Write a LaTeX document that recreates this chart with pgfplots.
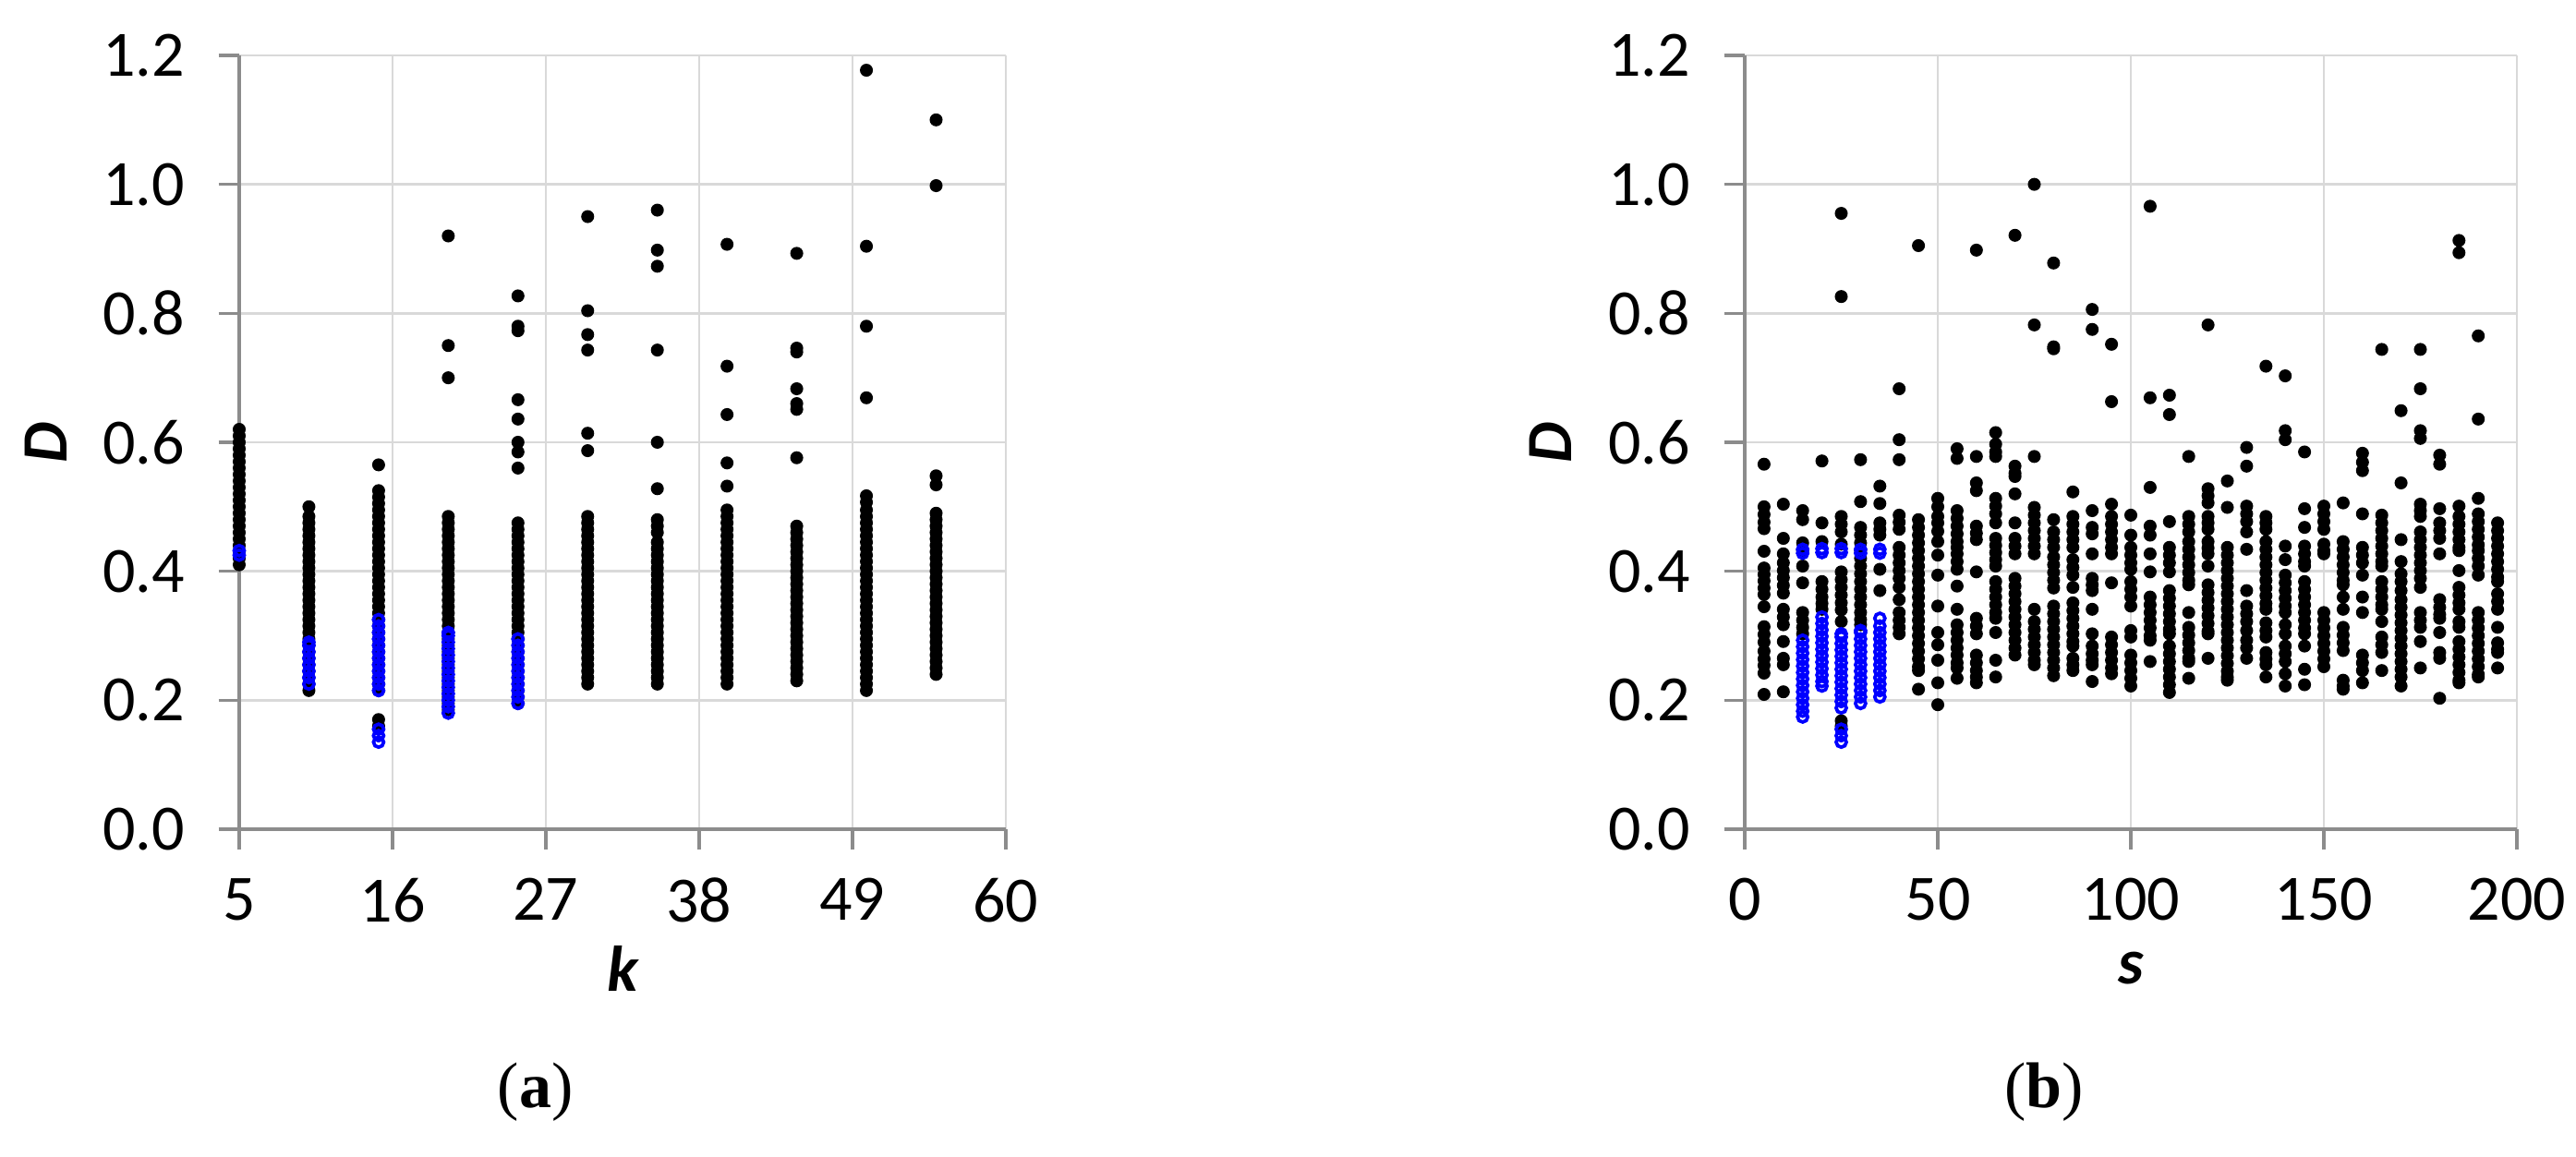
\documentclass[border=0pt]{standalone}
\usepackage{fontspec}
\setmainfont{Carlito}
\newfontfamily\capfont{Liberation Serif}
\usepackage{pgfplots}
\pgfplotsset{compat=1.18}
\definecolor{gridgray}{HTML}{D9D9D9}
\definecolor{axgray}{HTML}{8C8C8C}
\definecolor{ptblue}{RGB}{0,0,255}

\pgfplotsset{
  dpanel/.style={
    scale only axis, width=166pt, height=167.6pt,
    ymin=0, ymax=1.2, ytick={0,0.2,0.4,0.6,0.8,1.0,1.2},
    axis lines=left, axis line style={-, axgray, line width=0.7pt},
    grid=major, grid style={gridgray, line width=0.5pt},
    tick align=outside, major tick length=4.5pt,
    tick style={axgray, line width=0.7pt},
    /pgf/number format/assume math mode=true,
    tick label style={font=\fontsize{14}{14}\selectfont},
    yticklabel style={/pgf/number format/fixed, /pgf/number format/fixed zerofill,
      /pgf/number format/precision=1, xshift=-3.8pt},
    xticklabel style={yshift=-2.6pt},
    label style={font=\fontsize{14}{14}\selectfont\bfseries\itshape, inner sep=1pt},
    ylabel style={at={(axis description cs:-0.252,0.5)}, anchor=center},
    xlabel style={at={(axis description cs:0.5,-0.18)}, anchor=center},
    clip=false,
  },
  blk/.style={only marks, mark=*, mark size=1.2pt, black},
  blu/.style={only marks, mark=o, mark size=1.1pt, ptblue, mark options={line width=0.75pt}},
}

\begin{document}
\begin{tikzpicture}
\useasboundingbox (0,0) rectangle (557.8pt,250.6pt);

% ---------- (a) D versus k ----------
\begin{axis}[dpanel, at={(51.8pt,71pt)}, anchor=south west,
  xmin=5, xmax=60, xtick={5,16,27,38,49,60}, xlabel={k}, ylabel={D}]
\addplot[blk] coordinates {
(5,0.41)(5,0.42)(5,0.43)(5,0.44)(5,0.45)(5,0.46)(5,0.47)(5,0.48)(5,0.49)(5,0.50)(5,0.51)
(5,0.52)(5,0.53)(5,0.54)(5,0.55)(5,0.56)(5,0.57)(5,0.58)(5,0.59)(5,0.60)(5,0.61)(5,0.62)
(10,0.215)(10,0.225)(10,0.235)(10,0.245)(10,0.255)(10,0.265)(10,0.275)(10,0.285)(10,0.295)(10,0.305)
(10,0.315)(10,0.325)(10,0.335)(10,0.345)(10,0.355)(10,0.365)(10,0.375)(10,0.385)(10,0.395)(10,0.405)
(10,0.415)(10,0.425)(10,0.435)(10,0.445)(10,0.455)(10,0.465)(10,0.475)(10,0.485)(10,0.50)
(15,0.16)(15,0.17)(15,0.215)(15,0.225)(15,0.235)(15,0.245)(15,0.255)(15,0.265)(15,0.275)(15,0.285)
(15,0.295)(15,0.305)(15,0.315)(15,0.325)(15,0.335)(15,0.345)(15,0.355)(15,0.365)(15,0.375)(15,0.385)
(15,0.395)(15,0.405)(15,0.415)(15,0.425)(15,0.435)(15,0.445)(15,0.455)(15,0.465)(15,0.475)(15,0.485)
(15,0.495)(15,0.505)(15,0.515)(15,0.525)(15,0.565)
(20,0.185)(20,0.195)(20,0.205)(20,0.215)(20,0.225)(20,0.235)(20,0.245)(20,0.255)(20,0.265)(20,0.275)
(20,0.285)(20,0.295)(20,0.305)(20,0.315)(20,0.325)(20,0.335)(20,0.345)(20,0.355)(20,0.365)(20,0.375)
(20,0.385)(20,0.395)(20,0.405)(20,0.415)(20,0.425)(20,0.435)(20,0.445)(20,0.455)(20,0.465)(20,0.475)
(20,0.485)(20,0.70)(20,0.75)(20,0.92)
(25,0.195)(25,0.205)(25,0.215)(25,0.225)(25,0.235)(25,0.245)(25,0.255)(25,0.265)(25,0.275)(25,0.285)
(25,0.295)(25,0.305)(25,0.315)(25,0.325)(25,0.335)(25,0.345)(25,0.355)(25,0.365)(25,0.375)(25,0.385)
(25,0.395)(25,0.405)(25,0.415)(25,0.425)(25,0.435)(25,0.445)(25,0.455)(25,0.465)(25,0.475)
(25,0.56)(25,0.585)(25,0.60)(25,0.636)(25,0.666)(25,0.773)(25,0.78)(25,0.827)
(30,0.225)(30,0.235)(30,0.245)(30,0.255)(30,0.265)(30,0.275)(30,0.285)(30,0.295)(30,0.305)(30,0.315)
(30,0.325)(30,0.335)(30,0.345)(30,0.355)(30,0.365)(30,0.375)(30,0.385)(30,0.395)(30,0.405)(30,0.415)
(30,0.425)(30,0.435)(30,0.445)(30,0.455)(30,0.465)(30,0.475)(30,0.485)
(30,0.587)(30,0.614)(30,0.743)(30,0.767)(30,0.804)(30,0.95)
(35,0.225)(35,0.235)(35,0.245)(35,0.255)(35,0.265)(35,0.275)(35,0.285)(35,0.295)(35,0.305)(35,0.315)
(35,0.325)(35,0.335)(35,0.345)(35,0.355)(35,0.365)(35,0.375)(35,0.385)(35,0.395)(35,0.405)(35,0.415)
(35,0.425)(35,0.435)(35,0.445)(35,0.46)(35,0.47)(35,0.48)(35,0.528)(35,0.60)(35,0.743)(35,0.873)
(35,0.898)(35,0.96)
(40,0.225)(40,0.235)(40,0.245)(40,0.255)(40,0.265)(40,0.275)(40,0.285)(40,0.295)(40,0.305)(40,0.315)
(40,0.325)(40,0.335)(40,0.345)(40,0.355)(40,0.365)(40,0.375)(40,0.385)(40,0.395)(40,0.405)(40,0.415)
(40,0.425)(40,0.435)(40,0.445)(40,0.455)(40,0.465)(40,0.475)(40,0.485)(40,0.495)
(40,0.532)(40,0.568)(40,0.643)(40,0.718)(40,0.907)
(45,0.23)(45,0.24)(45,0.25)(45,0.26)(45,0.27)(45,0.28)(45,0.29)(45,0.30)(45,0.31)(45,0.32)
(45,0.33)(45,0.34)(45,0.35)(45,0.36)(45,0.37)(45,0.38)(45,0.39)(45,0.40)(45,0.41)(45,0.42)
(45,0.43)(45,0.44)(45,0.45)(45,0.46)(45,0.47)
(45,0.576)(45,0.651)(45,0.66)(45,0.683)(45,0.74)(45,0.746)(45,0.893)
(50,0.215)(50,0.225)(50,0.235)(50,0.245)(50,0.255)(50,0.265)(50,0.275)(50,0.285)(50,0.295)(50,0.305)
(50,0.315)(50,0.325)(50,0.335)(50,0.345)(50,0.355)(50,0.365)(50,0.375)(50,0.385)(50,0.395)(50,0.405)
(50,0.415)(50,0.425)(50,0.435)(50,0.445)(50,0.455)(50,0.465)(50,0.475)(50,0.485)(50,0.495)
(50,0.507)(50,0.517)(50,0.669)(50,0.78)(50,0.904)(50,1.177)
(55,0.24)(55,0.25)(55,0.26)(55,0.27)(55,0.28)(55,0.29)(55,0.30)(55,0.31)(55,0.32)(55,0.33)
(55,0.34)(55,0.35)(55,0.36)(55,0.37)(55,0.38)(55,0.39)(55,0.40)(55,0.41)(55,0.42)(55,0.43)
(55,0.44)(55,0.45)(55,0.46)(55,0.47)(55,0.48)(55,0.49)
(55,0.534)(55,0.548)(55,0.998)(55,1.10)
};
\addplot[blu] coordinates {
(5,0.425)(5,0.432)
(10,0.225)(10,0.235)(10,0.245)(10,0.255)(10,0.265)(10,0.275)(10,0.285)(10,0.29)
(15,0.135)(15,0.145)(15,0.155)
(15,0.215)(15,0.225)(15,0.235)(15,0.245)(15,0.255)(15,0.265)(15,0.275)(15,0.285)(15,0.295)(15,0.305)
(15,0.315)(15,0.325)
(20,0.18)(20,0.19)(20,0.20)(20,0.21)(20,0.22)(20,0.23)(20,0.24)(20,0.25)(20,0.26)(20,0.27)
(20,0.28)(20,0.29)(20,0.30)(20,0.305)
(25,0.195)(25,0.205)(25,0.215)(25,0.225)(25,0.235)(25,0.245)(25,0.255)(25,0.265)(25,0.275)(25,0.285)
(25,0.295)
};
\end{axis}

% ---------- (b) D versus s ----------
\begin{axis}[dpanel, at={(377.8pt,71pt)}, anchor=south west, width=167.2pt,
  xmin=0, xmax=200, xtick={0,50,100,150,200}, xlabel={s}, ylabel={D}]
\addplot[blk] coordinates {
(5,0.566)(5,0.50)(5,0.488)(5,0.476)(5,0.466)(5,0.431)(5,0.405)(5,0.395)(5,0.385)(5,0.374)(5,0.364)
(5,0.345)(5,0.314)(5,0.302)(5,0.29)(5,0.276)(5,0.264)(5,0.254)(5,0.242)(5,0.209)
(10,0.504)(10,0.451)(10,0.427)(10,0.413)(10,0.401)(10,0.39)(10,0.378)(10,0.366)(10,0.341)(10,0.329)
(10,0.317)(10,0.291)(10,0.265)(10,0.255)(10,0.213)
(15,0.494)(15,0.48)(15,0.444)(15,0.432)(15,0.408)(15,0.382)(15,0.336)(15,0.324)(15,0.313)(15,0.303)
(20,0.571)(20,0.475)(20,0.446)(20,0.384)(20,0.372)(20,0.36)(20,0.35)(20,0.341)
(25,0.955)(25,0.826)(25,0.485)(25,0.473)(25,0.461)(25,0.442)(25,0.399)(25,0.387)(25,0.375)(25,0.363)
(25,0.351)(25,0.34)(25,0.322)(25,0.168)(25,0.16)
(30,0.573)(30,0.508)(30,0.468)(30,0.456)(30,0.444)(30,0.432)(30,0.42)(30,0.408)(30,0.396)(30,0.384)
(30,0.372)(30,0.36)(30,0.348)(30,0.336)(30,0.325)(30,0.317)
(35,0.532)(35,0.505)(35,0.475)(35,0.465)(35,0.456)(35,0.403)(35,0.37)
(40,0.683)(40,0.604)(40,0.573)(40,0.487)(40,0.476)(40,0.465)(40,0.437)(40,0.425)(40,0.413)(40,0.401)
(40,0.389)(40,0.375)(40,0.356)(40,0.336)(40,0.324)(40,0.313)(40,0.303)
(45,0.905)(45,0.48)(45,0.468)(45,0.456)(45,0.444)(45,0.432)(45,0.42)(45,0.408)(45,0.396)(45,0.384)
(45,0.372)(45,0.36)(45,0.348)(45,0.336)(45,0.324)(45,0.312)(45,0.30)(45,0.288)(45,0.276)(45,0.264)
(45,0.252)(45,0.246)(45,0.217)
(50,0.513)(50,0.50)(50,0.485)(50,0.475)(50,0.462)(50,0.446)(50,0.425)(50,0.394)(50,0.346)(50,0.305)
(50,0.286)(50,0.262)(50,0.227)(50,0.193)
(55,0.59)(55,0.575)(55,0.494)(55,0.482)(55,0.47)(55,0.458)(55,0.446)(55,0.437)(55,0.427)(55,0.415)
(55,0.403)(55,0.377)(55,0.341)(55,0.317)(55,0.305)(55,0.293)(55,0.281)(55,0.27)(55,0.258)(55,0.25)
(55,0.234)
(60,0.898)(60,0.578)(60,0.537)(60,0.525)(60,0.47)(60,0.459)(60,0.449)(60,0.399)(60,0.327)(60,0.315)
(60,0.303)(60,0.27)(60,0.258)(60,0.246)(60,0.236)(60,0.227)
(65,0.615)(65,0.597)(65,0.585)(65,0.578)(65,0.513)(65,0.501)(65,0.489)(65,0.475)(65,0.451)(65,0.44)
(65,0.429)(65,0.418)(65,0.408)(65,0.384)(65,0.372)(65,0.36)(65,0.348)(65,0.336)(65,0.327)(65,0.305)
(65,0.262)(65,0.236)
(70,0.921)(70,0.563)(70,0.552)(70,0.547)(70,0.52)(70,0.475)(70,0.451)(70,0.439)(70,0.427)(70,0.389)
(70,0.377)(70,0.365)(70,0.353)(70,0.341)(70,0.329)(70,0.317)(70,0.305)(70,0.293)(70,0.281)(70,0.27)
(75,1.0)(75,0.782)(75,0.578)(75,0.499)(75,0.487)(75,0.475)(75,0.463)(75,0.451)(75,0.439)(75,0.427)
(75,0.341)(75,0.322)(75,0.31)(75,0.298)(75,0.286)(75,0.274)(75,0.262)(75,0.255)
(80,0.878)(80,0.748)(80,0.745)(80,0.48)(80,0.461)(80,0.449)(80,0.437)(80,0.422)(80,0.41)(80,0.398)
(80,0.386)(80,0.374)(80,0.346)(80,0.334)(80,0.322)(80,0.31)(80,0.298)(80,0.286)(80,0.274)(80,0.262)
(80,0.25)(80,0.238)
(85,0.523)(85,0.485)(85,0.473)(85,0.461)(85,0.449)(85,0.437)(85,0.418)(85,0.406)(85,0.394)(85,0.375)
(85,0.351)(85,0.339)(85,0.327)(85,0.315)(85,0.303)(85,0.291)(85,0.284)(85,0.265)(85,0.255)(85,0.246)
(90,0.806)(90,0.775)(90,0.494)(90,0.468)(90,0.458)(90,0.427)(90,0.389)(90,0.379)(90,0.37)(90,0.341)
(90,0.303)(90,0.284)(90,0.272)(90,0.262)(90,0.255)(90,0.229)
(95,0.752)(95,0.663)(95,0.504)(95,0.485)(95,0.473)(95,0.461)(95,0.449)(95,0.437)(95,0.427)(95,0.382)
(95,0.298)(95,0.286)(95,0.274)(95,0.262)(95,0.25)(95,0.241)
(100,0.487)(100,0.456)(100,0.437)(100,0.425)(100,0.413)(100,0.403)(100,0.384)(100,0.372)(100,0.36)
(100,0.346)(100,0.308)(100,0.298)(100,0.27)(100,0.258)(100,0.246)(100,0.234)(100,0.222)
(105,0.966)(105,0.669)(105,0.53)(105,0.47)(105,0.456)(105,0.427)(105,0.399)(105,0.36)(105,0.348)
(105,0.336)(105,0.324)(105,0.312)(105,0.30)(105,0.293)(105,0.26)
(110,0.673)(110,0.643)(110,0.477)(110,0.437)(110,0.425)(110,0.413)(110,0.399)(110,0.37)(110,0.358)
(110,0.346)(110,0.334)(110,0.322)(110,0.31)(110,0.303)(110,0.284)(110,0.272)(110,0.26)(110,0.248)
(110,0.236)(110,0.224)(110,0.212)
(115,0.578)(115,0.485)(115,0.473)(115,0.461)(115,0.446)(115,0.434)(115,0.422)(115,0.41)(115,0.398)
(115,0.386)(115,0.379)(115,0.336)(115,0.313)(115,0.301)(115,0.289)(115,0.277)(115,0.265)(115,0.26)
(115,0.234)
(120,0.782)(120,0.528)(120,0.517)(120,0.506)(120,0.485)(120,0.475)(120,0.465)(120,0.446)(120,0.436)
(120,0.427)(120,0.408)(120,0.379)(120,0.367)(120,0.355)(120,0.343)(120,0.331)(120,0.319)(120,0.307)
(120,0.303)(120,0.265)
(125,0.54)(125,0.499)(125,0.437)(125,0.425)(125,0.413)(125,0.401)(125,0.389)(125,0.377)(125,0.365)
(125,0.353)(125,0.341)(125,0.329)(125,0.317)(125,0.305)(125,0.293)(125,0.281)(125,0.269)(125,0.257)
(125,0.245)(125,0.236)(125,0.231)
(130,0.592)(130,0.563)(130,0.501)(130,0.489)(130,0.477)(130,0.461)(130,0.434)(130,0.37)(130,0.346)
(130,0.334)(130,0.322)(130,0.308)(130,0.293)(130,0.281)(130,0.265)
(135,0.718)(135,0.485)(135,0.475)(135,0.465)(135,0.446)(135,0.434)(135,0.422)(135,0.41)(135,0.398)
(135,0.386)(135,0.374)(135,0.362)(135,0.35)(135,0.341)(135,0.32)(135,0.308)(135,0.298)(135,0.274)
(135,0.264)(135,0.255)(135,0.236)
(140,0.703)(140,0.618)(140,0.604)(140,0.439)(140,0.418)(140,0.394)(140,0.382)(140,0.37)(140,0.358)
(140,0.346)(140,0.336)(140,0.317)(140,0.303)(140,0.284)(140,0.272)(140,0.26)(140,0.241)(140,0.222)
(145,0.585)(145,0.497)(145,0.468)(145,0.439)(145,0.427)(145,0.415)(145,0.408)(145,0.384)(145,0.372)
(145,0.36)(145,0.348)(145,0.336)(145,0.324)(145,0.312)(145,0.303)(145,0.284)(145,0.248)(145,0.224)
(150,0.501)(150,0.489)(150,0.477)(150,0.465)(150,0.442)(150,0.432)(150,0.427)(150,0.336)(150,0.324)
(150,0.312)(150,0.30)(150,0.288)(150,0.276)(150,0.264)(150,0.252)
(155,0.506)(155,0.446)(155,0.434)(155,0.422)(155,0.41)(155,0.398)(155,0.386)(155,0.379)(155,0.36)
(155,0.341)(155,0.313)(155,0.301)(155,0.289)(155,0.277)(155,0.231)(155,0.222)(155,0.217)
(160,0.583)(160,0.569)(160,0.556)(160,0.489)(160,0.437)(160,0.425)(160,0.413)(160,0.394)(160,0.36)
(160,0.336)(160,0.27)(160,0.258)(160,0.246)(160,0.227)
(165,0.744)(165,0.487)(165,0.475)(165,0.463)(165,0.451)(165,0.439)(165,0.427)(165,0.415)(165,0.408)
(165,0.384)(165,0.372)(165,0.36)(165,0.348)(165,0.341)(165,0.322)(165,0.298)(165,0.286)(165,0.274)
(165,0.246)
(170,0.649)(170,0.537)(170,0.449)(170,0.415)(170,0.396)(170,0.384)(170,0.37)(170,0.356)(170,0.344)
(170,0.332)(170,0.32)(170,0.308)(170,0.296)(170,0.284)(170,0.272)(170,0.26)(170,0.248)(170,0.236)
(170,0.222)
(175,0.744)(175,0.683)(175,0.618)(175,0.606)(175,0.504)(175,0.494)(175,0.485)(175,0.461)(175,0.449)
(175,0.437)(175,0.425)(175,0.413)(175,0.401)(175,0.389)(175,0.375)(175,0.336)(175,0.324)(175,0.313)
(175,0.291)(175,0.25)
(180,0.58)(180,0.566)(180,0.497)(180,0.475)(180,0.463)(180,0.451)(180,0.427)(180,0.356)(180,0.344)
(180,0.333)(180,0.327)(180,0.305)(180,0.274)(180,0.265)(180,0.203)
(185,0.913)(185,0.894)(185,0.501)(185,0.485)(185,0.473)(185,0.461)(185,0.449)(185,0.437)(185,0.432)
(185,0.401)(185,0.375)(185,0.363)(185,0.351)(185,0.341)(185,0.322)(185,0.313)(185,0.291)(185,0.279)
(185,0.267)(185,0.255)(185,0.243)(185,0.231)(185,0.227)
(190,0.765)(190,0.636)(190,0.513)(190,0.489)(190,0.477)(190,0.465)(190,0.453)(190,0.441)(190,0.432)
(190,0.42)(190,0.408)(190,0.394)(190,0.336)(190,0.324)(190,0.312)(190,0.30)(190,0.288)(190,0.276)
(190,0.264)(190,0.252)(190,0.24)(190,0.236)
(195,0.475)(195,0.463)(195,0.451)(195,0.439)(195,0.427)(195,0.415)(195,0.403)(195,0.391)(195,0.384)
(195,0.365)(195,0.353)(195,0.341)(195,0.313)(195,0.289)(195,0.279)(195,0.274)(195,0.25)
};
\addplot[blu] coordinates {
(15,0.428)(15,0.434)
(15,0.174)(15,0.183)(15,0.193)(15,0.203)(15,0.213)(15,0.223)(15,0.233)(15,0.243)(15,0.253)(15,0.263)
(15,0.273)(15,0.283)(15,0.293)
(20,0.429)(20,0.435)
(20,0.222)(20,0.229)(20,0.239)(20,0.249)(20,0.259)(20,0.269)(20,0.279)(20,0.289)(20,0.299)(20,0.309)
(20,0.319)(20,0.329)
(25,0.429)(25,0.435)
(25,0.135)(25,0.145)(25,0.155)
(25,0.188)(25,0.198)(25,0.208)(25,0.218)(25,0.228)(25,0.238)(25,0.248)(25,0.258)(25,0.268)(25,0.278)
(25,0.288)(25,0.298)(25,0.303)
(30,0.428)(30,0.434)
(30,0.195)(30,0.205)(30,0.215)(30,0.225)(30,0.235)(30,0.245)(30,0.255)(30,0.265)(30,0.275)(30,0.285)
(30,0.295)(30,0.305)(30,0.308)
(35,0.428)(35,0.434)
(35,0.205)(35,0.215)(35,0.225)(35,0.235)(35,0.245)(35,0.255)(35,0.265)(35,0.275)(35,0.285)(35,0.295)
(35,0.305)(35,0.315)(35,0.327)
};
\end{axis}

\node[font=\capfont\fontsize{14}{14}\selectfont] at (115.9pt,14pt) {(\textbf{a})};
\node[font=\capfont\fontsize{14}{14}\selectfont] at (442.6pt,14pt) {(\textbf{b})};
\end{tikzpicture}
\end{document}
